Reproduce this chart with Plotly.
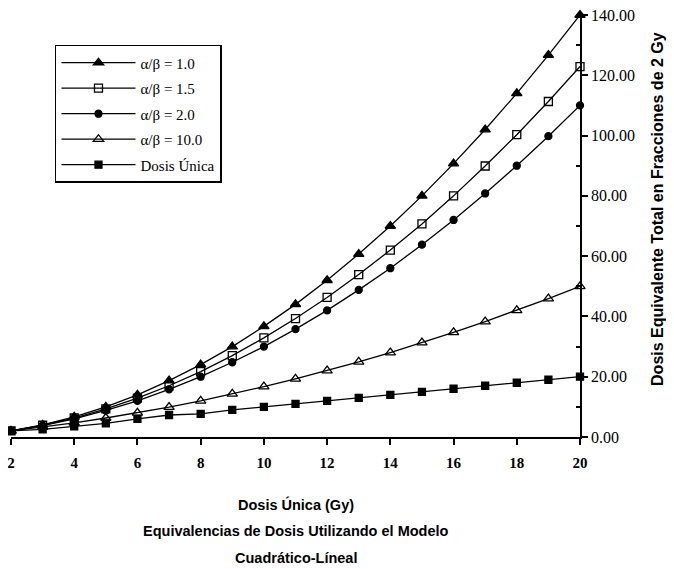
import plotly.graph_objects as go

dose = [2, 3, 4, 5, 6, 7, 8, 9, 10, 11, 12, 13, 14, 15, 16, 17, 18, 19, 20]
ab_1_0 = [2.0, 4.0, 6.7, 10.0, 14.0, 18.7, 24.0, 30.0, 36.7, 44.0, 52.0, 60.7, 70.0, 80.0, 90.7, 102.0, 114.0, 126.7, 140.0]
ab_1_5 = [2.0, 3.9, 6.3, 9.3, 12.9, 17.0, 21.7, 27.0, 32.9, 39.3, 46.3, 53.9, 62.0, 70.7, 80.0, 89.9, 100.3, 111.3, 122.9]
ab_2_0 = [2.0, 3.8, 6.0, 8.8, 12.0, 15.8, 20.0, 24.8, 30.0, 35.8, 42.0, 48.8, 56.0, 63.8, 72.0, 80.8, 90.0, 99.8, 110.0]
ab_10_0 = [2.0, 3.3, 4.7, 6.3, 8.0, 9.9, 12.0, 14.3, 16.7, 19.3, 22.0, 24.9, 28.0, 31.3, 34.7, 38.3, 42.0, 45.9, 50.0]
dosis_unica = [2.0, 2.5, 3.5, 4.5, 6.0, 7.3, 7.7, 9.0, 10.0, 11.0, 12.0, 13.0, 14.0, 15.0, 16.0, 17.0, 18.0, 19.0, 20.0]

series = [
    ("α/β = 1.0", ab_1_0, "triangle-up", 9),
    ("α/β = 1.5", ab_1_5, "square-open", 8),
    ("α/β = 2.0", ab_2_0, "circle", 7),
    ("α/β = 10.0", ab_10_0, "triangle-up-open", 9),
    ("Dosis Única", dosis_unica, "square", 7),
]

fig = go.Figure()
for i, (name, vals, sym, sz) in enumerate(series):
    fig.add_trace(go.Scatter(
        x=dose, y=vals, name=name, mode="lines+markers",
        legendgroup="g%d" % i,
        line=dict(color="black", width=1.3),
        marker=dict(symbol=sym, size=sz, color="black",
                    line=dict(color="black", width=1.3)),
        cliponaxis=False,
    ))

serif = "Liberation Serif"
sans = "Liberation Sans"

fig.update_layout(
    width=666, height=561,
    paper_bgcolor="white", plot_bgcolor="white",
    margin=dict(l=3, r=94, t=7, b=132),
    showlegend=True,
    legend=dict(x=0.0773, y=0.929, xanchor="left", yanchor="top",
                bgcolor="white", bordercolor="black", borderwidth=1.5,
                font=dict(family=serif, size=15, color="black"),
                itemwidth=74, tracegroupgap=3),
    xaxis=dict(range=[2, 20], tickmode="array", tickvals=[2, 4, 6, 8, 10, 12, 14, 16, 18, 20],
               automargin=False, ticklabeloverflow="allow",
               showline=True, linecolor="black", linewidth=1.5,
               ticks="outside", ticklen=6, tickcolor="black", tickwidth=1.5,
               showgrid=False, zeroline=False,
               ticklabelstandoff=5,
               tickfont=dict(family=serif, size=15, color="black", weight="bold")),
    yaxis=dict(range=[0, 140], side="right", tickmode="array",
               tickvals=[0, 20, 40, 60, 80, 100, 120, 140], tickformat=".2f",
               automargin=False, ticklabeloverflow="allow",
               showline=True, linecolor="black", linewidth=1.5,
               ticks="outside", ticklen=6, tickcolor="black", tickwidth=1.5,
               minor=dict(tickvals=[10, 30, 50, 70, 90, 110, 130], ticks="inside", ticklen=4, tickcolor="black"),
               showgrid=False, zeroline=False,
               tickfont=dict(family=serif, size=16, color="black")),
    annotations=[
        dict(text="Dosis Equivalente Total en Fracciones de 2 Gy", xref="paper", yref="paper",
             x=1.135, y=0.540, xanchor="center", yanchor="middle", textangle=-90, showarrow=False,
             font=dict(family=sans, size=16, color="black", weight="bold")),
        dict(text="Dosis Única (Gy)", xref="paper", yref="paper", x=0.50, y=-0.161,
             xanchor="center", yanchor="middle",
             showarrow=False, font=dict(family=sans, size=14.5, color="black", weight="bold")),
        dict(text="Equivalencias de Dosis Utilizando el Modelo", xref="paper", yref="paper", x=0.50, y=-0.222,
             xanchor="center", yanchor="middle",
             showarrow=False, font=dict(family=sans, size=14.5, color="black", weight="bold")),
        dict(text="Cuadrático-Líneal", xref="paper", yref="paper", x=0.50, y=-0.287,
             xanchor="center", yanchor="middle",
             showarrow=False, font=dict(family=sans, size=14.5, color="black", weight="bold")),
    ],
)

fig.write_html("out.html")
